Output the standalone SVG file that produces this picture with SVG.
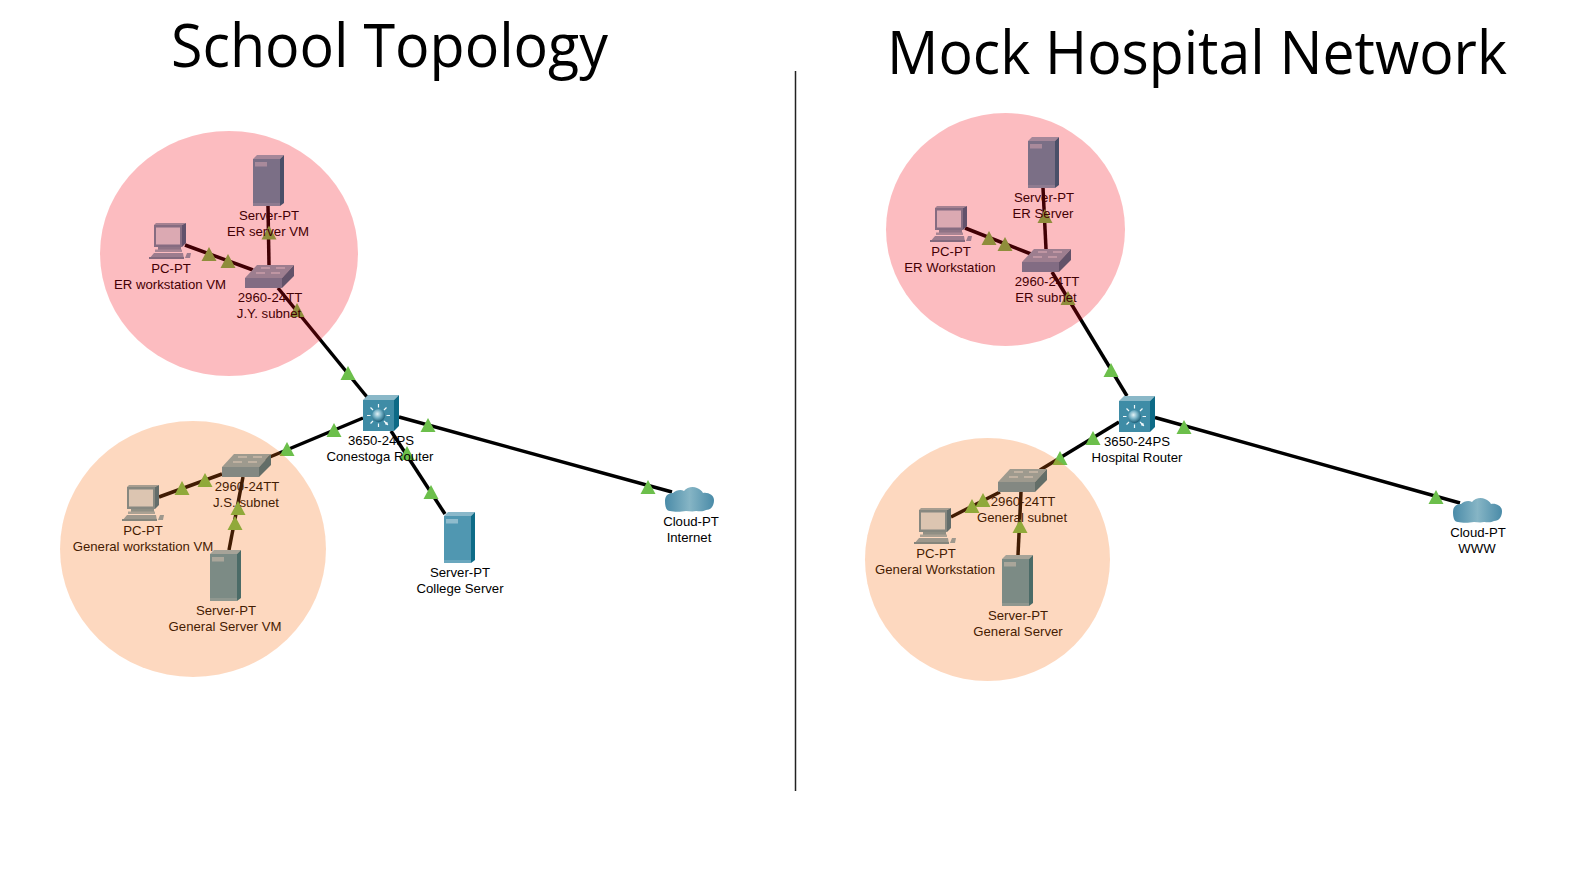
<svg xmlns="http://www.w3.org/2000/svg" width="1577" height="870" viewBox="0 0 1577 870">
<style>
.lbl{font-family:"Liberation Sans",Arial,sans-serif;font-size:13.2px;fill:#000;text-anchor:middle}
.title{font-family:"Open Sans","Noto Sans",sans-serif;font-weight:400;font-size:60px;fill:#000}
.link{stroke:#000;stroke-width:3.500;fill:none}
.pink{fill:#f3000f;fill-opacity:.263}
.peach{fill:#f76b0b;fill-opacity:.263}
</style>
<defs>
<linearGradient id="cg" x1="0" x2="1" y1="0" y2="0"><stop offset="0" stop-color="#4a8ba8"/><stop offset=".5" stop-color="#86b5c5"/><stop offset="1" stop-color="#4a8ba8"/></linearGradient>
<radialGradient id="sg" cx=".42" cy=".38" r=".62"><stop offset="0" stop-color="#e4f2f6"/><stop offset=".5" stop-color="#73b0c5"/><stop offset="1" stop-color="#1d5f78"/></radialGradient>
<marker id="ah" viewBox="0 0 4 4" refX="1" refY="2" markerWidth="3" markerHeight="3" orient="auto" markerUnits="strokeWidth"><path d="M0 0L4 2L0 4Z" fill="#f2f8fa"/></marker>
<polygon id="t" points="-7.500,0 7.500,0 0,-14" fill="#6cbf4b"/>
<g id="server">
<polygon points="0,4 4,0 31,0 27,4" fill="#8ab8ca"/>
<polygon points="27,4 31,0 31,48 27,51" fill="#0e6c88"/>
<rect x="0" y="4" width="27" height="47" fill="#5097b1"/>
<rect x="0" y="48" width="27" height="3" fill="#6aa7be"/>
<rect x="2" y="7" width="12" height="4.500" fill="#8fbccd"/>
</g>
<g id="pc">
<polygon points="5,2 7,0 37,0 33,2" fill="#8ab0c0"/>
<polygon points="33,2 37,0 37,20 33,24" fill="#2f6f8c"/>
<rect x="5" y="2" width="28" height="22" fill="#5f93aa"/>
<rect x="7" y="4.500" width="24" height="17" fill="#d2e5ed"/>
<rect x="9" y="24" width="23" height="5" fill="#6c9cb0"/>
<rect x="6" y="26.500" width="27" height="2.500" fill="#8fb5c4"/>
<polygon points="0,36 5,30 34,30 35,36" fill="#7ea9bb"/>
<rect x="0" y="34" width="35" height="2" fill="#5d8fa5"/>
<polygon points="36,35 38,30 42,30 41,35" fill="#7ea9bb"/>
</g>
<g id="switch">
<polygon points="0,13 12,0 49,0 37,13" fill="#7fabbd"/>
<polygon points="37,13 49,0 49,11 37,23" fill="#2f7089"/>
<rect x="0" y="13" width="37" height="10" fill="#5a93ad"/>
<path d="M16 3h9M31 3h9M11 8h9M26 8h9" stroke="#dcecf2" stroke-width="1" fill="none"/>
</g>
<g id="router">
<polygon points="0,5 5,0 36,0 31,5" fill="#8ab8c8"/>
<polygon points="31,5 36,0 36,31 31,36" fill="#0d6a86"/>
<rect x="0" y="5" width="31" height="31" fill="#3f8ca6"/>
<path d="M15.500 12.500V9M15.500 28.500V32M7.500 20.500H4M23.500 20.500H27M10 15L7.500 12.500M21 15L23.500 12.500M10 26L7.500 28.500M21 26L23.500 28.500" stroke="#f2f8fa" stroke-width="1.200" fill="none" marker-end="url(#ah)"/>
<circle cx="15.500" cy="20.500" r="6.500" fill="url(#sg)"/>
</g>
<path id="cloud" fill="url(#cg)" d="M5 25C1 25 0 20 0 15C0 9 4 7 8 7C11 4 16 3 19 5C22 1 28 0 32 2C35 3 37 5 38 7C43 6 49 9 49 14C49 20 46 24 41 24C38 26 33 25 31 25C27 26 24 25 21 25C16 26 9 26 5 25Z"/>
</defs>
<rect width="1577" height="870" fill="#fff"/>
<text class="title" x="171" y="67" textLength="437" lengthAdjust="spacingAndGlyphs">School Topology</text>
<text class="title" x="887" y="74" textLength="620" lengthAdjust="spacingAndGlyphs">Mock Hospital Network</text>
<line x1="795.500" y1="71" x2="795.500" y2="791" stroke="#222" stroke-width="1.500"/>
<g id="connectors">
<g class="links">
<path class="link" d="M268 206L269 265"/><path class="link" d="M185 245L253 270"/><path class="link" d="M278 288L367 397"/>
<path class="link" d="M363 418L265 459"/><path class="link" d="M222 474L159 497"/><path class="link" d="M243 477L229 550"/>
<path class="link" d="M391 431L445 514"/><path class="link" d="M399 417L672 492"/>
<path class="link" d="M1043 188L1046 249"/><path class="link" d="M965 228L1031 254"/><path class="link" d="M1052 272L1127 396"/>
<path class="link" d="M1119 422L1040 470"/><path class="link" d="M1000 492L951 517"/><path class="link" d="M1021 492L1018 555"/>
<path class="link" d="M1155 417.500L1460 503"/>
</g>
<g class="ends">
<use href="#t" x="269" y="239.500"/><use href="#t" x="209" y="261"/><use href="#t" x="228" y="268"/><use href="#t" x="297" y="317"/><use href="#t" x="348" y="380"/>
<use href="#t" x="334" y="437"/><use href="#t" x="287" y="456"/><use href="#t" x="205" y="487"/><use href="#t" x="182" y="495"/><use href="#t" x="238" y="515"/><use href="#t" x="235" y="530"/>
<use href="#t" x="407" y="460"/><use href="#t" x="431" y="499"/><use href="#t" x="428" y="432"/><use href="#t" x="648" y="494"/>
<use href="#t" x="1045" y="223"/><use href="#t" x="989" y="245"/><use href="#t" x="1005" y="251"/><use href="#t" x="1068" y="305"/><use href="#t" x="1111" y="377"/>
<use href="#t" x="1093" y="445"/><use href="#t" x="1060" y="465"/><use href="#t" x="983" y="507"/><use href="#t" x="972" y="513"/><use href="#t" x="1020" y="533"/>
<use href="#t" x="1184" y="434"/><use href="#t" x="1436" y="504"/>
</g>
</g>
<g id="school-er-server"><use href="#server" x="253" y="155"/><text class="lbl" x="269" y="220">Server-PT</text><text class="lbl" x="268" y="236">ER server VM</text></g>
<g id="school-er-pc"><use href="#pc" x="149" y="223"/><text class="lbl" x="171" y="273">PC-PT</text><text class="lbl" x="170" y="289">ER workstation VM</text></g>
<g id="school-jy-switch"><use href="#switch" x="245" y="265"/><text class="lbl" x="270" y="302">2960-24TT</text><text class="lbl" x="269" y="318">J.Y. subnet</text></g>
<g id="school-router"><use href="#router" x="363" y="395"/><text class="lbl" x="381" y="445">3650-24PS</text><text class="lbl" x="380" y="461">Conestoga Router</text></g>
<g id="school-js-switch"><use href="#switch" x="222" y="454"/><text class="lbl" x="247" y="491">2960-24TT</text><text class="lbl" x="246" y="507">J.S. subnet</text></g>
<g id="school-gen-pc"><use href="#pc" x="122" y="485"/><text class="lbl" x="143" y="535">PC-PT</text><text class="lbl" x="143" y="551">General workstation VM</text></g>
<g id="school-gen-server"><use href="#server" x="210" y="550"/><text class="lbl" x="226" y="615">Server-PT</text><text class="lbl" x="225" y="631">General Server VM</text></g>
<g id="school-college-server"><use href="#server" x="444" y="512"/><text class="lbl" x="460" y="577">Server-PT</text><text class="lbl" x="460" y="593">College Server</text></g>
<g id="school-cloud"><use href="#cloud" x="665" y="486"/><text class="lbl" x="691" y="526">Cloud-PT</text><text class="lbl" x="689" y="542">Internet</text></g>
<g id="hosp-er-server"><use href="#server" x="1028" y="137"/><text class="lbl" x="1044" y="202">Server-PT</text><text class="lbl" x="1043" y="218">ER Server</text></g>
<g id="hosp-er-pc"><use href="#pc" x="930" y="206"/><text class="lbl" x="951" y="256">PC-PT</text><text class="lbl" x="950" y="272">ER Workstation</text></g>
<g id="hosp-er-switch"><use href="#switch" x="1022" y="249"/><text class="lbl" x="1047" y="286">2960-24TT</text><text class="lbl" x="1046" y="302">ER subnet</text></g>
<g id="hosp-router"><use href="#router" x="1119" y="396"/><text class="lbl" x="1137" y="446">3650-24PS</text><text class="lbl" x="1137" y="462">Hospital Router</text></g>
<g id="hosp-gen-switch"><use href="#switch" x="998" y="469"/><text class="lbl" x="1023" y="506">2960-24TT</text><text class="lbl" x="1022" y="522">General subnet</text></g>
<g id="hosp-gen-pc"><use href="#pc" x="914" y="508"/><text class="lbl" x="936" y="558">PC-PT</text><text class="lbl" x="935" y="574">General Workstation</text></g>
<g id="hosp-gen-server"><use href="#server" x="1002" y="555"/><text class="lbl" x="1018" y="620">Server-PT</text><text class="lbl" x="1018" y="636">General Server</text></g>
<g id="hosp-cloud"><use href="#cloud" x="1453" y="497"/><text class="lbl" x="1478" y="537">Cloud-PT</text><text class="lbl" x="1477" y="553">WWW</text></g>
<g id="zones">
<ellipse class="pink" cx="229" cy="253.500" rx="129" ry="122.500"/>
<ellipse class="peach" cx="193" cy="549" rx="133" ry="128"/>
<ellipse class="pink" cx="1005.500" cy="229.500" rx="119.500" ry="116.500"/>
<ellipse class="peach" cx="987.500" cy="559.500" rx="122.500" ry="121.500"/>
</g>
</svg>
